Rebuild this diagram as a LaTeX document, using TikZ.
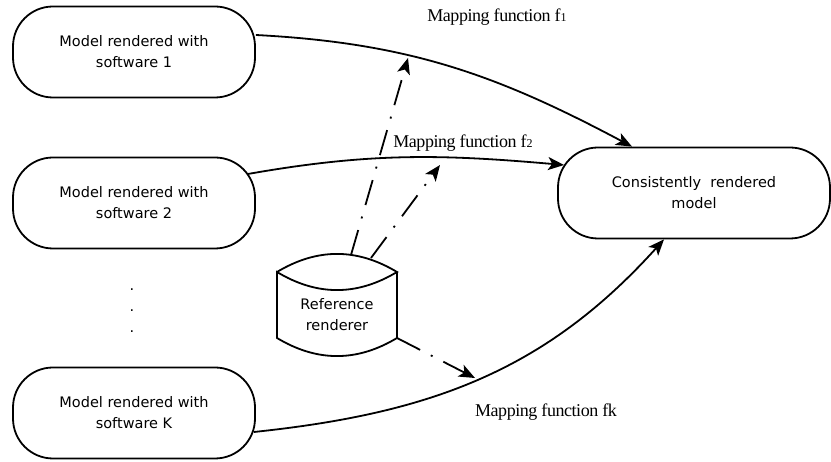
\documentclass[tikz,border=0pt]{standalone}
\usepackage{fontspec}
\usepackage{tikz}
\usetikzlibrary{arrows.meta,shapes.geometric,positioning}
\newfontfamily\boxfont{DejaVu Sans}
\newfontfamily\mapfont[LetterSpace=-2.5]{Liberation Serif}
\newcommand{\lowidx}[1]{{\fontsize{12}{12}\selectfont #1}}

\begin{document}
\begin{tikzpicture}[x=1pt, y=1pt, line width=1.8pt, >={Stealth[length=16pt,width=13pt,inset=4pt]},
  every text node part/.style={align=center},
  modelbox/.style={draw, rectangle, rounded corners=40pt, minimum width=242pt, minimum height=91pt, font=\boxfont\fontsize{14.5}{21}\selectfont},
  reftext/.style={font=\boxfont\fontsize{14.5}{21}\selectfont},
  maplabel/.style={font=\mapfont\fontsize{18}{20}\selectfont},
  mapline/.style={->},
  refline/.style={->, dash pattern=on 26pt off 12pt on 2pt off 12pt}]
\useasboundingbox (0,0) rectangle (831,462);
% models coming out of the different tools
\draw
  node (soft1) at (134,410)[modelbox]{Model rendered with\\software 1}
  node (soft2) at (134,259)[modelbox]{Model rendered with\\software 2}
  node (vdots) at (132,151)[reftext]{.\\.\\.}
  node (softk) at (134,49)[modelbox]{Model rendered with\\software K};
% target and reference
\draw
  node (cons) at (694,269)[modelbox, minimum width=272pt]{Consistently\ \ rendered\\model}
  node (ref) at (337,147)[reftext]{Reference\\renderer};
% drum around the reference renderer
\path (ref.center) ++(-60,43) coordinate (reftl) ++(120,0) coordinate (reftr)
  ++(0,-66) coordinate (refbr) ++(-120,0) coordinate (refbl);
\draw (reftl) to[bend left=31] (reftr) to[bend left=31] (reftl) -- (refbl)
  to[bend right=31] (refbr) -- (reftr);
% mapping functions
\draw[mapline] ([yshift=17pt]soft1.east) to[out=-3,in=152] ([xshift=-62pt]cons.north);
\draw[mapline] ([shift={(-8pt,29pt)}]soft2.east) to[out=10,in=175] ([shift={(7pt,28pt)}]cons.west);
\draw[mapline] ([shift={(-2pt,-19pt)}]softk.east) to[out=6,in=228] ([xshift=-30pt]cons.south);
\node (map1) at (497,445)[maplabel]{Mapping function f\lowidx{1}};
\node (map2) at (463,319)[maplabel]{Mapping function f\lowidx{2}};
\node (mapk) at (546,50)[maplabel]{Mapping function fk};
% reference renderer feeding the mappings
\coordinate (tip1) at (408,404);
\coordinate (tip2) at (440,297);
\coordinate (tipk) at (475,84);
\draw[refline] ([shift={(14pt,60pt)}]ref.center) -- (tip1);
\draw[refline] ([shift={(34pt,57pt)}]ref.center) -- (tip2);
\draw[refline] (refbr) -- (tipk);
\end{tikzpicture}
\end{document}
